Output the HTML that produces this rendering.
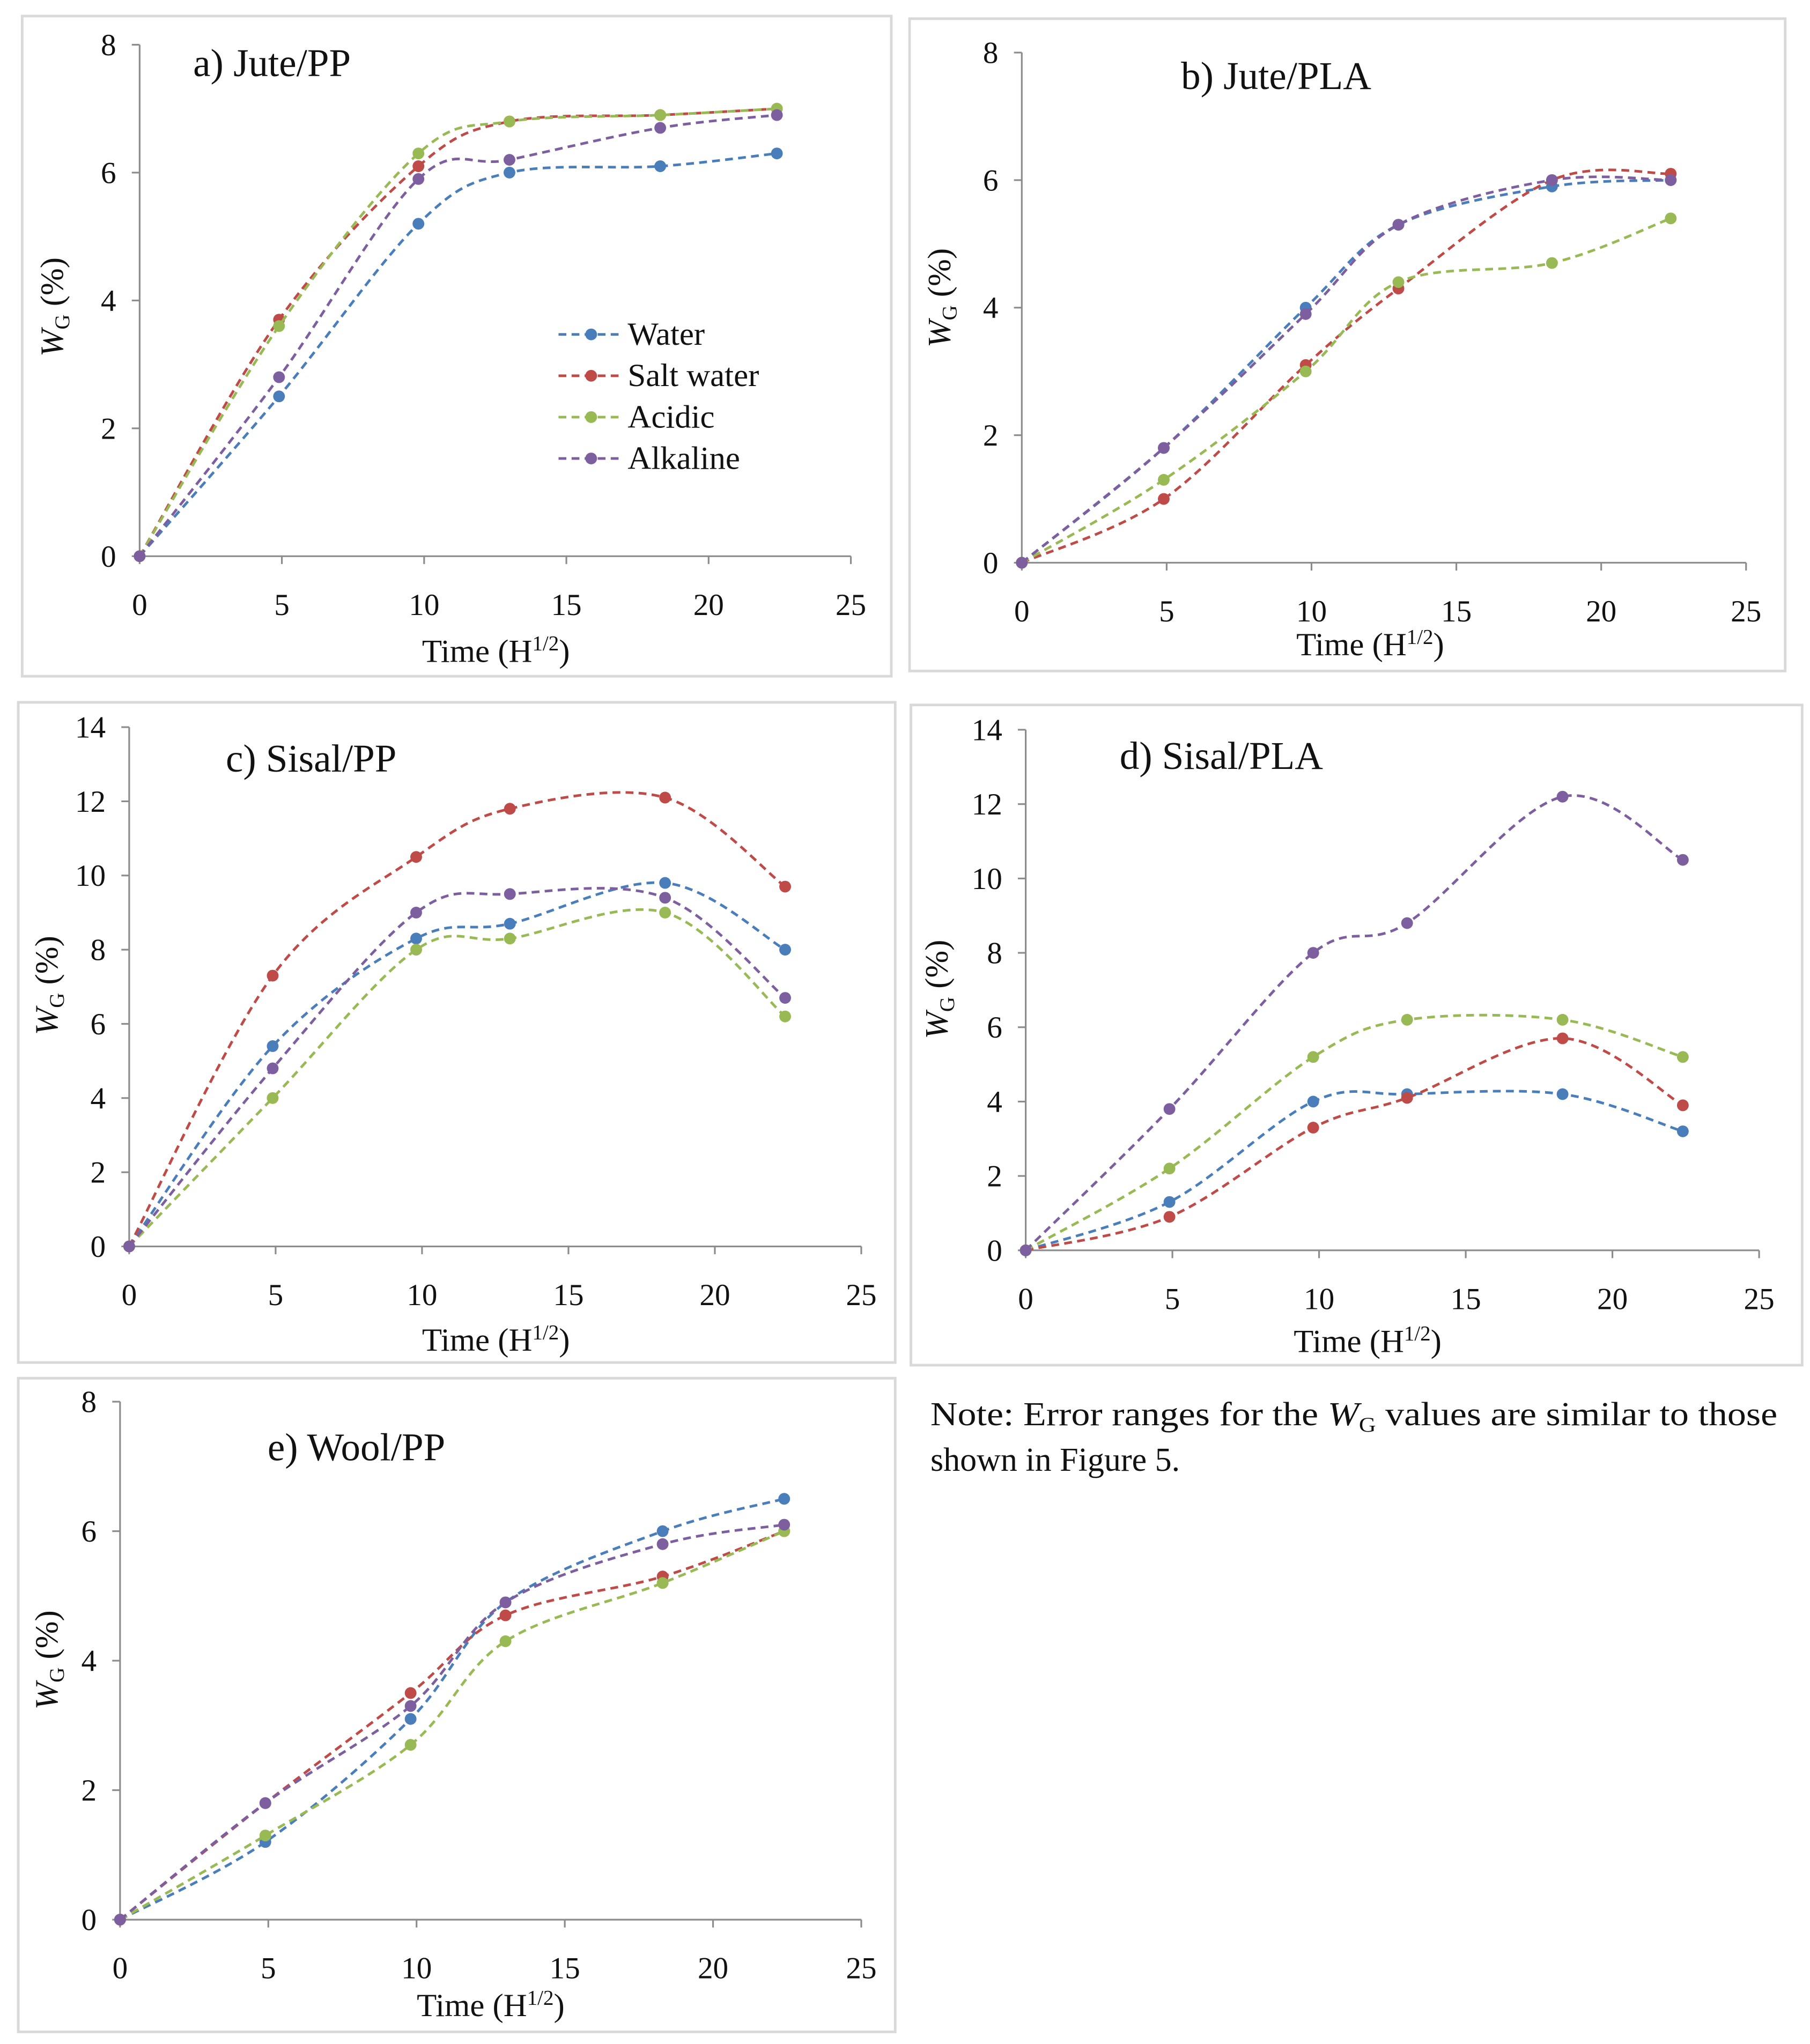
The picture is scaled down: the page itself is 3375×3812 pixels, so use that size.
<!DOCTYPE html>
<html><head><meta charset="utf-8"><style>
html,body{margin:0;padding:0;background:#fff;}
svg{display:block;}
text{font-family:"Liberation Serif",serif;fill:#111;}
</style></head><body>
<svg id="fig" width="3375" height="3812" viewBox="0 0 1387 1566" xmlns="http://www.w3.org/2000/svg">
<text x="713" y="1092" font-size="25.5" textLength="649" lengthAdjust="spacingAndGlyphs">Note: Error ranges for the <tspan font-style="italic">W</tspan><tspan font-size="16" dy="5">G</tspan><tspan dy="-5"> values are similar to those</tspan></text>
<text x="713" y="1127" font-size="25.5">shown in Figure 5.</text>
</svg>
<script>
const xTimes = [0, 4.9, 9.8, 13, 18.3, 22.4];
const seriesNames = ["Water", "Salt water", "Acidic", "Alkaline"];
const colors = ["#4a7ebb", "#be4b48", "#98b954", "#7d5fa0"];
const aWater = [0, 2.5, 5.2, 6.0, 6.1, 6.3];
const aSalt = [0, 3.7, 6.1, 6.8, 6.9, 7.0];
const aAcid = [0, 3.6, 6.3, 6.8, 6.9, 7.0];
const aAlk = [0, 2.8, 5.9, 6.2, 6.7, 6.9];
const bWater = [0, 1.8, 4.0, 5.3, 5.9, 6.0];
const bSalt = [0, 1.0, 3.1, 4.3, 6.0, 6.1];
const bAcid = [0, 1.3, 3.0, 4.4, 4.7, 5.4];
const bAlk = [0, 1.8, 3.9, 5.3, 6.0, 6.0];
const cWater = [0, 5.4, 8.3, 8.7, 9.8, 8.0];
const cSalt = [0, 7.3, 10.5, 11.8, 12.1, 9.7];
const cAcid = [0, 4.0, 8.0, 8.3, 9.0, 6.2];
const cAlk = [0, 4.8, 9.0, 9.5, 9.4, 6.7];
const dWater = [0, 1.3, 4.0, 4.2, 4.2, 3.2];
const dSalt = [0, 0.9, 3.3, 4.1, 5.7, 3.9];
const dAcid = [0, 2.2, 5.2, 6.2, 6.2, 5.2];
const dAlk = [0, 3.8, 8.0, 8.8, 12.2, 10.5];
const eWater = [0, 1.2, 3.1, 4.9, 6.0, 6.5];
const eSalt = [0, 1.8, 3.5, 4.7, 5.3, 6.0];
const eAcid = [0, 1.3, 2.7, 4.3, 5.2, 6.0];
const eAlk = [0, 1.8, 3.3, 4.9, 5.8, 6.1];
const xTicks = [0, 5, 10, 15, 20, 25];
const yTicks8 = [0, 2, 4, 6, 8];
const yTicks14 = [0, 2, 4, 6, 8, 10, 12, 14];

const panels = [
 {id:"a", title:"a) Jute/PP", box:[17,12,683,518], x0:107, x1:652, y0:426, y1:34, ymax:8, yt:yTicks8, tx:148, ty:58, xl:380, xly:507, ylx:48, yly:235, data:[aWater,aSalt,aAcid,aAlk], legend:true},
 {id:"b", title:"b) Jute/PLA", box:[697,14,1368,514], x0:783, x1:1338, y0:431, y1:40, ymax:8, yt:yTicks8, tx:905, ty:68, xl:1050, xly:502, ylx:728, yly:228, data:[bWater,bSalt,bAcid,bAlk]},
 {id:"c", title:"c) Sisal/PP", box:[14,538,686,1044], x0:99, x1:660, y0:955, y1:557, ymax:14, yt:yTicks14, tx:173, ty:591, xl:380, xly:1035, ylx:44, yly:755, data:[cWater,cSalt,cAcid,cAlk]},
 {id:"d", title:"d) Sisal/PLA", box:[698,540,1381,1046], x0:786, x1:1348, y0:958, y1:559, ymax:14, yt:yTicks14, tx:858, ty:589, xl:1048, xly:1036, ylx:726, yly:758, data:[dWater,dSalt,dAcid,dAlk]},
 {id:"e", title:"e) Wool/PP", box:[14,1056,686,1557], x0:92, x1:660, y0:1471, y1:1074, ymax:8, yt:yTicks8, tx:205, ty:1119, xl:376, xly:1545, ylx:44, yly:1272, data:[eWater,eSalt,eAcid,eAlk]}
];
const NS="http://www.w3.org/2000/svg";
const svg=document.getElementById("fig");
function mk(tag,attrs,parent){const e=document.createElementNS(NS,tag);for(const k in attrs)e.setAttribute(k,attrs[k]);(parent||svg).appendChild(e);return e;}
function smooth(pts){
 let d="M"+pts[0][0]+","+pts[0][1];
 for(let i=0;i<pts.length-1;i++){
  const p0=pts[i-1]||pts[i],p1=pts[i],p2=pts[i+1],p3=pts[i+2]||p2;
  const c1=[p1[0]+(p2[0]-p0[0])/6,p1[1]+(p2[1]-p0[1])/6];
  const c2=[p2[0]-(p3[0]-p1[0])/6,p2[1]-(p3[1]-p1[1])/6];
  d+=" C"+c1+" "+c2+" "+p2;
 }
 return d;
}
panels.forEach(p=>{
 const g=mk("g",{});
 
 
 const bx=p.box;
 const fr=mk("rect",{x:bx[0],y:bx[1],width:bx[2]-bx[0],height:bx[3]-bx[1],fill:"#fff",stroke:"#d9d9d9","stroke-width":2},g);
 
 
 const sx=v=>p.x0+(v/25)*(p.x1-p.x0);
 const sy=v=>p.y0-(v/p.ymax)*(p.y0-p.y1);
 const ax=mk("line",{x1:p.x0,y1:p.y0,x2:p.x1,y2:p.y0,stroke:"#8c8c8c","stroke-width":1.3},g);
 
 
 const ay=mk("line",{x1:p.x0,y1:p.y0,x2:p.x0,y2:p.y1,stroke:"#8c8c8c","stroke-width":1.3},g);
 
 
 xTicks.forEach(t=>{
  mk("line",{x1:sx(t),y1:p.y0,x2:sx(t),y2:p.y0+6,stroke:"#8c8c8c","stroke-width":1.3},g);
  const tl=mk("text",{x:sx(t),y:p.y0+45,"font-size":23.5,"text-anchor":"middle"},g);
  
  
  tl.textContent=t;
 });
 p.yt.forEach(t=>{
  mk("line",{x1:p.x0-6,y1:sy(t),x2:p.x0,y2:sy(t),stroke:"#8c8c8c","stroke-width":1.3},g);
  const tl=mk("text",{x:p.x0-18,y:sy(t)+8,"font-size":23.5,"text-anchor":"end"},g);
  
  
  tl.textContent=t;
 });
 const ti=mk("text",{x:p.tx,y:p.ty,"font-size":30},g);
 
 
 ti.textContent=p.title;
 const xl=mk("text",{x:p.xl,y:p.xly,"font-size":25,"text-anchor":"middle"},g);
 
 
 xl.innerHTML='Time (H<tspan font-size="16" dy="-9">1/2</tspan><tspan dy="9">)</tspan>';
 const yl=mk("text",{x:0,y:0,"font-size":25,"text-anchor":"middle",transform:"translate("+p.ylx+","+p.yly+") rotate(-90)"},g);
 
 
 yl.innerHTML='<tspan font-style="italic">W</tspan><tspan font-size="16" dy="5">G</tspan><tspan dy="-5"> (%)</tspan>';
 p.data.forEach((vals,si)=>{
  const pts=vals.map((v,i)=>[sx(xTimes[i]),sy(v)]);
  const path=mk("path",{d:smooth(pts),fill:"none",stroke:colors[si],"stroke-width":2,"stroke-dasharray":"6,4"},g);
  
  
  pts.forEach(pt=>{
   const c=mk("circle",{cx:pt[0],cy:pt[1],r:4.5,fill:colors[si]},g);
   
   
  });
 });
 if(p.legend){
  seriesNames.forEach((n,si)=>{
   const yy=256+si*31.7;
   const lg=mk("g",{},g);
   
   
   mk("line",{x1:428,y1:yy,x2:478,y2:yy,stroke:colors[si],"stroke-width":2,"stroke-dasharray":"6,4"},lg);
   mk("circle",{cx:453,cy:yy,r:4.5,fill:colors[si]},lg);
   const t=mk("text",{x:481,y:yy+8,"font-size":25},lg);
   t.textContent=n;
  });
 }
});
</script>
</body></html>
